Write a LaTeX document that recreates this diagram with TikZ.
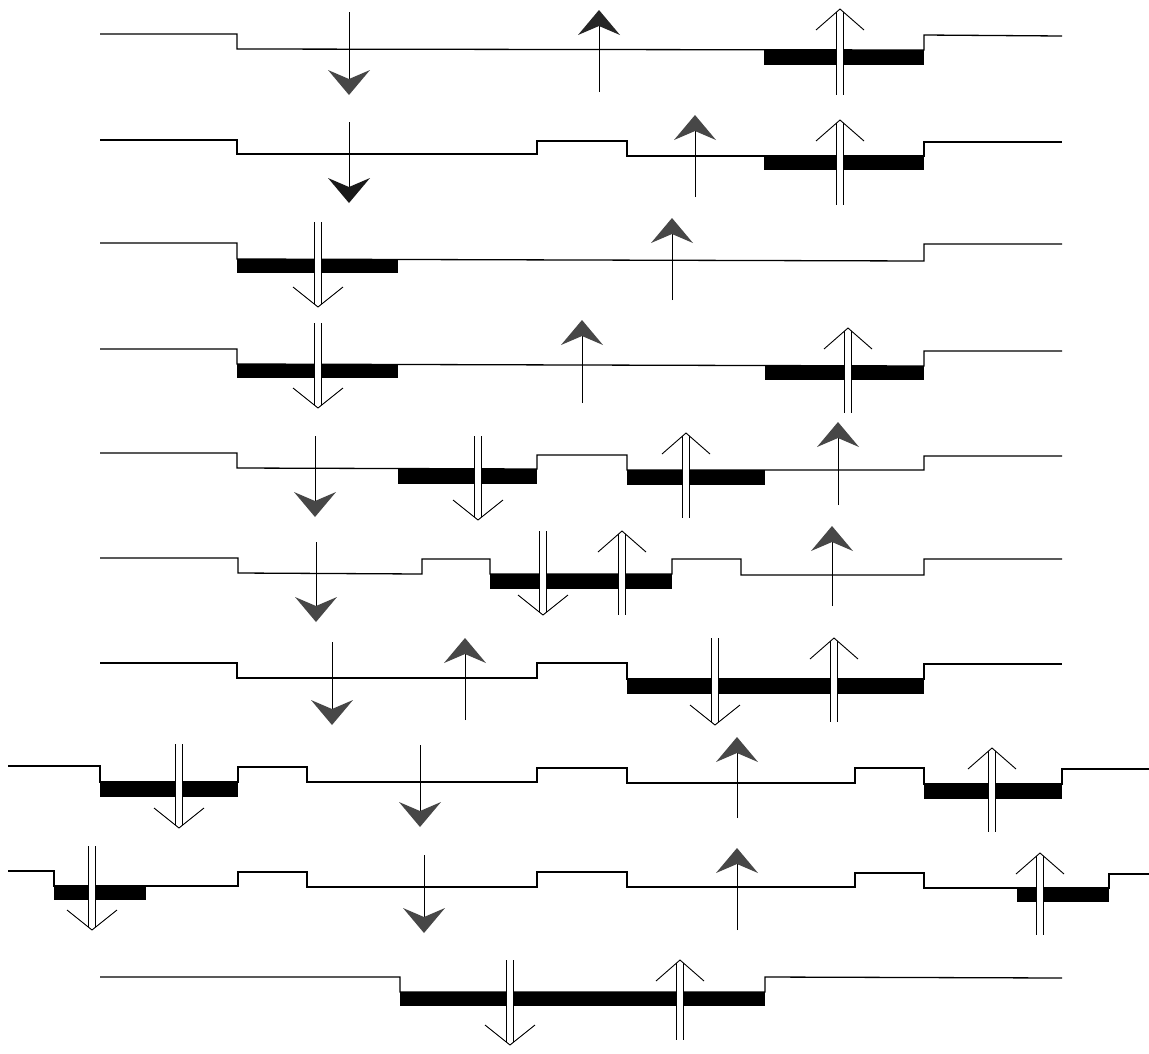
\documentclass[tikz,border=0pt]{standalone}
\begin{document}
\begin{tikzpicture}[x=1pt,y=-1pt,
  prof/.style={line width=1.3pt,line join=miter},
  shaft/.style={line width=0.9pt},
  headfill/.style={fill=black!72},
  bar/.style={fill=black}]
\newcommand{\fdn}[4][black!72]{%
  \draw[shaft] (#2,#3) -- (#2,{#4-10});
  \fill[fill=#1] ({#2-21},{#4-25}) -- (#2,{#4-16}) -- ({#2+21},{#4-25}) -- (#2,#4) -- cycle;}
\newcommand{\fup}[4][black!72]{%
  \draw[shaft] (#2,#4) -- (#2,{#3+10});
  \fill[fill=#1] ({#2-21},{#3+25}) -- (#2,{#3+16}) -- ({#2+21},{#3+25}) -- (#2,#3) -- cycle;}
\newcommand{\hdn}[3]{%
  \fill[white] ({#1-3},#2) rectangle ({#1+3},{#3-4});
  \draw[shaft] ({#1-3.5},#2) -- ({#1-3.5},{#3-3});
  \draw[shaft] ({#1+3.5},#2) -- ({#1+3.5},{#3-3});
  \draw[shaft] ({#1-25},{#3-20}) -- (#1,#3) -- ({#1+25},{#3-20});}
\newcommand{\hup}[3]{%
  \fill[white] ({#1-3},{#2+4}) rectangle ({#1+3},#3);
  \draw[shaft] ({#1-3.5},{#2+3}) -- ({#1-3.5},#3);
  \draw[shaft] ({#1+3.5},{#2+3}) -- ({#1+3.5},#3);
  \draw[shaft] ({#1-24},{#2+21}) -- (#1,#2) -- ({#1+24},{#2+21});}
\useasboundingbox (0,0) rectangle (1149,1053);
% Row 1
\fill[bar] (764,50) rectangle (924,65);
\draw[prof] (100,34) -- (237,34) -- (237,49) -- (924,50) -- (924,35) -- (1062,36);
\fdn{349}{12}{95}
\fup[black!85]{599}{10}{92}
\hup{840}{9}{95}
% Row 2
\fill[bar] (764,156) rectangle (924,170);
\draw[prof] (100,140) -- (237,140) -- (237,154) -- (537,154) -- (537,141) -- (627,141) -- (627,156) -- (924,156) -- (924,142) -- (1062,142);
\fdn[black!90]{349}{122}{203}
\fup{695}{115}{197}
\hup{840}{120}{205}
% Row 3
\fill[bar] (237,259) rectangle (398,273);
\draw[prof] (100,243) -- (237,243) -- (237,259) -- (924,261) -- (924,244) -- (1062,244);
\hdn{318}{222}{307}
\fup{672}{218}{300}
% Row 4
\fill[bar] (237,364) rectangle (398,378);
\fill[bar] (765,366) rectangle (924,380);
\draw[prof] (100,349) -- (237,349) -- (237,364) -- (924,366) -- (924,351) -- (1062,351);
\hdn{318}{323}{408}
\fup{582}{320}{403}
\hup{848}{328}{413}
% Row 5
\fill[bar] (398,469) rectangle (537,484);
\fill[bar] (627,470) rectangle (765,485);
\draw[prof] (100,453) -- (237,453) -- (237,468) -- (537,469) -- (537,455) -- (627,455) -- (627,470) -- (924,470) -- (924,456) -- (1062,456);
\fdn{315}{436}{517}
\hdn{478}{436}{520}
\hup{686}{433}{518}
\fup{838}{422}{505}
% Row 6
\fill[bar] (490,574) rectangle (672,589);
\draw[prof] (100,558) -- (238,558) -- (238,573) -- (422,574) -- (422,559) -- (490,559) -- (490,574) -- (672,574) -- (672,559) -- (741,559) -- (741,575) -- (924,575) -- (924,559) -- (1062,559);
\fdn{316}{542}{622}
\hdn{543}{531}{615}
\hup{622}{531}{615}
\fup{832}{526}{606}
% Row 7
\fill[bar] (627,679) rectangle (924,694);
\draw[prof] (100,663) -- (237,663) -- (237,678) -- (537,678) -- (537,663) -- (627,663) -- (627,679) -- (924,679) -- (924,664) -- (1062,664);
\fdn{332}{642}{725}
\fup{465}{638}{720}
\hdn{715}{638}{725}
\hup{834}{638}{722}
% Row 8
\fill[bar] (100,782) rectangle (238,797);
\fill[bar] (924,784) rectangle (1062,799);
\draw[prof] (8,766) -- (100,766) -- (100,782) -- (238,782) -- (238,767) -- (307,767) -- (307,782) -- (537,782) -- (537,768) -- (627,768) -- (627,783) -- (855,783) -- (855,768) -- (924,768) -- (924,784) -- (1062,784) -- (1062,769) -- (1149,769);
\hdn{179}{744}{828}
\fdn{420}{745}{827}
\fup{737}{737}{818}
\hup{992}{748}{832}
% Row 9
\fill[bar] (54,886) rectangle (146,900);
\fill[bar] (1017,888) rectangle (1109,902);
\draw[prof] (8,871) -- (54,871) -- (54,886) -- (238,886) -- (238,872) -- (307,872) -- (307,887) -- (537,887) -- (537,872) -- (627,872) -- (627,887) -- (855,887) -- (855,873) -- (924,873) -- (924,888) -- (1109,888) -- (1109,874) -- (1149,874);
\hdn{92}{846}{930}
\fdn{424}{855}{933}
\fup{737}{848}{930}
\hup{1040}{853}{935}
% Row 10
\fill[bar] (400,992) rectangle (765,1006);
\draw[prof] (100,977) -- (400,977) -- (400,992) -- (765,992) -- (765,977) -- (1062,978);
\hdn{510}{960}{1045}
\hup{680}{960}{1040}
\end{tikzpicture}
\end{document}
